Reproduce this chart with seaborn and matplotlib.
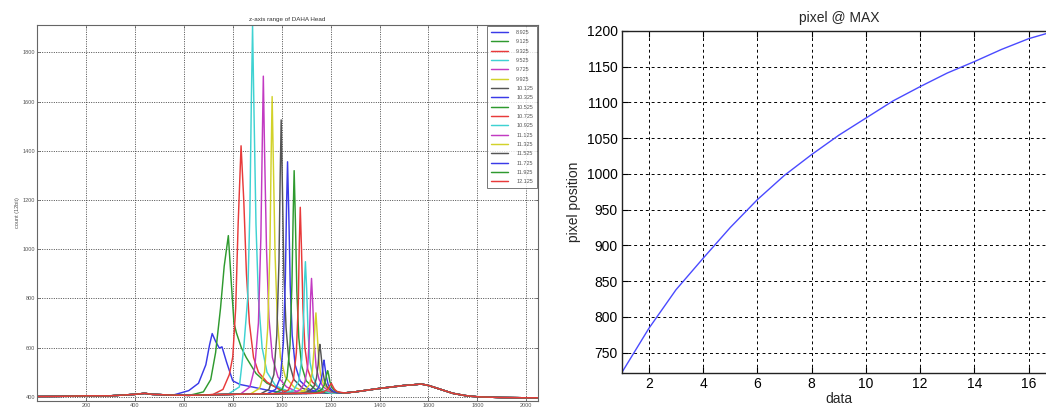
"""Two-panel figure: z-axis range spectra (left) + pixel @ MAX curve (right)."""
import numpy as np
import pandas as pd
import matplotlib
matplotlib.use('Agg')
import matplotlib.pyplot as plt
import seaborn as sns

sns.set_style('ticks')
plt.rcParams['font.family'] = ['Liberation Sans', 'DejaVu Sans']
plt.rcParams['xtick.direction'] = 'in'
plt.rcParams['ytick.direction'] = 'in'

# ---------------------------------------------------------------- data
Z_LABELS = ['8.925', '9.125', '9.325', '9.525', '9.725', '9.925', '10.125',
            '10.325', '10.525', '10.725', '10.925', '11.125', '11.325',
            '11.525', '11.725', '11.925', '12.125']

# shared background (at the bottom)
BASE_X = [0, 100, 200, 300, 400, 440, 470, 550, 620, 700, 800, 900, 1000,
          1100, 1200, 1260, 1300, 1350, 1400, 1450, 1500, 1540, 1570, 1600,
          1650, 1700, 1750, 1800, 1900, 2000, 2048]
BASE_Y = [401, 402, 404, 404, 410, 414, 410, 407, 406, 408, 410, 412, 413,
          414, 415, 416, 420, 427, 434, 440, 446, 449, 452, 446, 430, 414,
          405, 400, 397, 396, 396]

# peak region of every trace (x = pixel, y = count)
PEAK_X = [
    [560, 620, 660, 690, 705, 716, 730, 745, 756, 775, 800, 830, 880, 950, 1020],
    [640, 680, 710, 730, 750, 765, 782, 795, 805, 815, 835, 855, 895, 940, 1000, 1060],
    [720, 760, 786, 800, 812, 822, 834, 845, 856, 868, 885, 905, 940, 990, 1050],
    [780, 827, 845, 861, 870, 876, 881, 887, 895, 905, 920, 940, 975, 1030],
    [830, 870, 890, 905, 915, 921, 925, 930, 938, 948, 962, 985, 1020, 1070],
    [870, 910, 930, 943, 952, 957, 961, 966, 973, 982, 995, 1015, 1050, 1100],
    [910, 948, 968, 980, 989, 994, 998, 1003, 1009, 1018, 1030, 1050, 1085, 1130],
    [940, 975, 995, 1007, 1015, 1020, 1024, 1029, 1035, 1043, 1055, 1075, 1110, 1150],
    [965, 1002, 1022, 1034, 1042, 1047, 1051, 1056, 1062, 1070, 1082, 1100, 1135, 1175],
    [990, 1028, 1048, 1060, 1068, 1072, 1076, 1081, 1087, 1095, 1107, 1125, 1160, 1195],
    [1015, 1050, 1070, 1082, 1089, 1093, 1097, 1102, 1108, 1116, 1128, 1145, 1180],
    [1040, 1076, 1095, 1107, 1114, 1118, 1122, 1127, 1133, 1141, 1153, 1170, 1200],
    [1060, 1095, 1114, 1125, 1132, 1136, 1140, 1145, 1151, 1159, 1170, 1190, 1215],
    [1080, 1115, 1132, 1142, 1149, 1153, 1156, 1161, 1167, 1175, 1186, 1205, 1225],
    [1100, 1135, 1150, 1160, 1166, 1170, 1173, 1177, 1183, 1190, 1200, 1215, 1235],
    [1120, 1150, 1166, 1175, 1181, 1185, 1188, 1192, 1197, 1204, 1214, 1228, 1245],
    [1140, 1170, 1185, 1193, 1198, 1203, 1208, 1215, 1225, 1240, 1255],
]
PEAK_Y = [
    [408, 425, 455, 530, 610, 657, 625, 598, 603, 540, 465, 450, 440, 425, 415],
    [410, 420, 470, 580, 760, 930, 1055, 850, 700, 660, 600, 560, 495, 455, 430, 415],
    [410, 430, 490, 562, 760, 1100, 1420, 1200, 900, 700, 560, 500, 460, 430, 415],
    [410, 440, 600, 800, 1150, 1600, 1908, 1550, 1100, 800, 600, 500, 445, 420],
    [410, 440, 520, 700, 1050, 1450, 1703, 1400, 1000, 720, 560, 480, 440, 418],
    [410, 435, 500, 680, 1000, 1380, 1620, 1350, 980, 720, 560, 480, 440, 418],
    [410, 430, 490, 650, 950, 1300, 1525, 1250, 900, 680, 540, 470, 435, 418],
    [412, 430, 480, 620, 880, 1180, 1355, 1150, 850, 650, 530, 465, 432, 418],
    [412, 430, 480, 610, 860, 1140, 1319, 1120, 830, 640, 525, 465, 432, 418],
    [412, 428, 470, 580, 780, 1020, 1170, 1000, 760, 600, 510, 460, 430, 418],
    [413, 428, 465, 550, 700, 860, 949, 840, 660, 540, 480, 445, 420],
    [413, 428, 460, 530, 660, 800, 881, 780, 620, 520, 470, 440, 420],
    [413, 426, 450, 500, 590, 690, 741, 660, 560, 490, 455, 430, 418],
    [413, 424, 442, 475, 530, 590, 613, 570, 510, 465, 440, 422, 416],
    [413, 422, 436, 460, 495, 535, 549, 520, 480, 450, 432, 420, 416],
    [414, 420, 432, 450, 475, 498, 506, 490, 462, 440, 428, 420, 416],
    [414, 420, 428, 438, 448, 455, 445, 432, 422, 418, 416],
]

# right panel: pixel of maximum per data index
DATA_IDX = list(range(1, 18))
PIX_MAX = [722, 784, 838, 882, 925, 964, 998, 1027, 1054, 1078, 1102, 1122,
           1141, 1157, 1174, 1189, 1200]

# matlab default line order b g r c m y k (slightly softened like the scan)
ML = ['#3a3ae8', '#2f9a2f', '#e83a3a', '#3fd2d2', '#c23ac2', '#d2d22a', '#555555']
colors = [ML[i % 7] for i in range(len(Z_LABELS))]

# long-form table for seaborn
rows = []
for lab, px, py in zip(Z_LABELS, PEAK_X, PEAK_Y):
    xs = [x for x in BASE_X if x < px[0]] + px + [x for x in BASE_X if x > px[-1]]
    ys = [y for x, y in zip(BASE_X, BASE_Y) if x < px[0]] + py + \
         [y for x, y in zip(BASE_X, BASE_Y) if x > px[-1]]
    for x, y in zip(xs, ys):
        rows.append((lab, x, y))
spec = pd.DataFrame(rows, columns=['z', 'pixel', 'count'])
curve = pd.DataFrame({'data': DATA_IDX, 'pix': PIX_MAX})

# ---------------------------------------------------------------- figure
fig = plt.figure(figsize=(10.46, 4.08), dpi=100)
axL = fig.add_axes([0.0354, 0.0172, 0.479, 0.9216])
axR = fig.add_axes([0.5944, 0.0865, 0.415, 0.838])

# ── left: spectra
sns.lineplot(data=spec, x='pixel', y='count', hue='z', hue_order=Z_LABELS,
             palette=colors, estimator=None, sort=False, lw=1.05, ax=axL)
axL.set_xlim(0, 2048)
axL.set_ylim(383, 1911)
axL.set_xticks(np.arange(200, 2001, 200))
axL.set_yticks(np.arange(400, 1801, 200))
axL.tick_params(labelsize=4, colors='#555555', length=2.5, width=0.5,
                top=True, right=True, pad=1.5)
axL.grid(True, color='#333333', ls=(0, (1.2, 1.6)), lw=0.6)
for s in axL.spines.values():
    s.set_color('#666666'); s.set_linewidth(0.8)
axL.set_xlabel('')
axL.set_ylabel('count (12bit)', fontsize=4, color='#555555', labelpad=2)
axL.set_title('z-axis range of DAHA Head', fontsize=4.5, color='#333333', pad=3)
h, l = axL.get_legend_handles_labels()
leg = axL.legend(h, l, loc='upper right', fontsize=4, handlelength=3.2,
                 labelspacing=0.78, borderaxespad=0.2, frameon=True,
                 fancybox=False, edgecolor='#555555', borderpad=0.7,
                 handletextpad=1.4)
leg.get_frame().set_linewidth(0.7)
for t in leg.get_texts():
    t.set_color('#555555')

# ── right: pixel @ MAX
sns.lineplot(data=curve, x='data', y='pix', color='#4a4aff', lw=1.0, ax=axR)
axR.set_xlim(1, 17)
axR.set_ylim(722, 1200)
axR.set_xticks(np.arange(2, 17, 2))
axR.set_yticks(np.arange(750, 1201, 50))
axR.tick_params(labelsize=10, colors='black', length=4, width=0.8,
                top=True, right=True, pad=3)
axR.grid(True, color='black', ls=(0, (3, 3)), lw=0.7)
for s in axR.spines.values():
    s.set_color('#222222'); s.set_linewidth(1.0)
axR.set_xlabel('data', fontsize=10, labelpad=1)
axR.set_ylabel('pixel position', fontsize=10, labelpad=4)
axR.set_title('pixel @ MAX', fontsize=10, pad=6)

fig.savefig('out.png', dpi=100)
